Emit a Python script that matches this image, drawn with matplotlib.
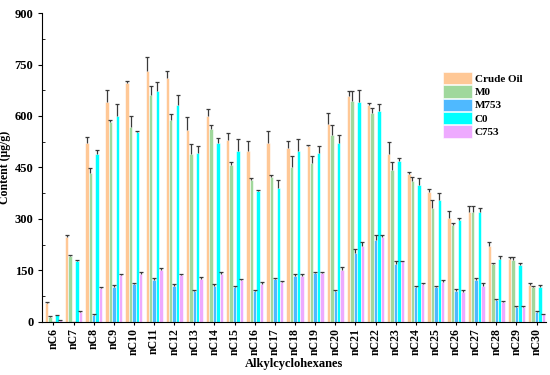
import numpy as np
import matplotlib
matplotlib.use("Agg")
import matplotlib.pyplot as plt
from matplotlib.ticker import MultipleLocator

categories = ["nC6", "nC7", "nC8", "nC9", "nC10", "nC11", "nC12", "nC13", "nC14", "nC15",
              "nC16", "nC17", "nC18", "nC19", "nC20", "nC21", "nC22", "nC23", "nC24", "nC25",
              "nC26", "nC27", "nC28", "nC29", "nC30"]
series_names = ["Crude Oil", "M0", "M753", "C0", "C753"]

crude_oil = [55, 248, 520, 640, 697, 730, 710, 559, 601, 531, 499, 520, 507, 512, 577, 659, 632, 488, 431, 378, 304, 319, 222, 183, 108]
m0 = [14, 191, 433, 582, 569, 661, 589, 489, 561, 457, 414, 423, 452, 464, 544, 645, 609, 442, 410, 331, 283, 319, 169, 181, 100]
m753 = [0, 0, 20, 101, 110, 123, 105, 90, 105, 102, 90, 124, 132, 142, 90, 201, 239, 169, 101, 100, 90, 122, 64, 42, 28]
c0 = [19, 176, 488, 601, 552, 672, 631, 492, 520, 499, 380, 389, 498, 492, 522, 640, 614, 470, 400, 355, 297, 319, 183, 166, 101]
c753 = [4, 29, 97, 135, 140, 152, 135, 126, 140, 122, 110, 115, 134, 143, 150, 222, 248, 176, 110, 116, 86, 105, 58, 44, 22]

crude_oil_err = [3, 5, 20, 37, 6, 43, 20, 38, 18, 20, 27, 36, 20, 4, 32, 15, 6, 35, 5, 10, 20, 20, 12, 5, 5]
m0_err = [2, 4, 15, 5, 32, 27, 18, 30, 12, 10, 4, 5, 30, 20, 30, 28, 13, 25, 12, 25, 5, 18, 3, 8, 3]
m753_err = [0, 0, 3, 6, 4, 4, 5, 3, 5, 3, 3, 5, 8, 4, 3, 10, 15, 8, 4, 3, 5, 5, 3, 3, 3]
c0_err = [2, 3, 14, 35, 4, 27, 30, 20, 16, 33, 3, 25, 35, 20, 23, 35, 20, 7, 20, 20, 5, 12, 8, 5, 5]
c753_err = [1, 3, 3, 4, 4, 4, 4, 4, 6, 3, 6, 5, 5, 3, 9, 12, 4, 2, 3, 6, 6, 8, 2, 2, 1]

colors = ["#FFC896", "#A0D89C", "#4FB9FF", "#00FFFF", "#EEAAFF"]

plt.rcParams['font.family'] = ['Liberation Serif', 'DejaVu Serif']

fig = plt.figure(figsize=(5.5, 3.75), dpi=100)
ax = fig.add_axes([0.077, 0.142, 0.915, 0.823])

x = np.arange(len(categories))
w = 0.17
data = [crude_oil, m0, m753, c0, c753]
errs = [crude_oil_err, m0_err, m753_err, c0_err, c753_err]
for i, (vals, er, col, name) in enumerate(zip(data, errs, colors, series_names)):
    pos = x + (i - 2) * w
    vals = np.asarray(vals, dtype=float)
    er = np.asarray(er, dtype=float)
    ax.bar(pos, vals, width=w, color=col, edgecolor="white", linewidth=0.4, label=name, zorder=2)
    # upper-only error bars: stem + top cap
    ax.errorbar(pos, vals, yerr=[np.zeros_like(er), er], fmt="none", ecolor="#3a3a3a",
                elinewidth=0.9, capsize=0, zorder=3)
    ax.plot(pos, vals + er, linestyle="none", marker="_", markersize=3.4,
            markeredgewidth=0.9, color="#3a3a3a", zorder=3)

ax.set_xlim(-0.55, len(categories) - 0.55)
ax.set_ylim(0, 900)
ax.yaxis.set_major_locator(MultipleLocator(150))
ax.yaxis.set_minor_locator(MultipleLocator(75))
ax.tick_params(axis="y", which="major", direction="out", length=3, width=0.8, labelsize=9)
ax.tick_params(axis="y", which="minor", direction="in", length=2, width=0.6)
ax.set_xticks(x)
ax.set_xticklabels(categories, rotation=90, fontsize=8.5, fontweight="bold")
ax.tick_params(axis="x", direction="out", length=2.5, width=0.8, pad=2)
for lab in ax.get_yticklabels():
    lab.set_fontweight("bold")

for s in ["top", "right"]:
    ax.spines[s].set_visible(False)
for s in ["left", "bottom"]:
    ax.spines[s].set_linewidth(0.8)
    ax.spines[s].set_zorder(4)

ax.set_ylabel("Content (μg/g)", fontsize=8.5, fontweight="bold")
ax.yaxis.set_label_coords(-0.063, 0.5)
ax.set_xlabel("Alkylcyclohexanes", fontsize=9, fontweight="bold", labelpad=2)

leg = ax.legend(loc="upper left", bbox_to_anchor=(0.78, 0.835), frameon=False,
                fontsize=8, handlelength=2.6, handleheight=1.35, handletextpad=0.3,
                labelspacing=0.08, borderpad=0.2)
for t in leg.get_texts():
    t.set_fontweight("bold")

fig.savefig("out.png", dpi=100)
